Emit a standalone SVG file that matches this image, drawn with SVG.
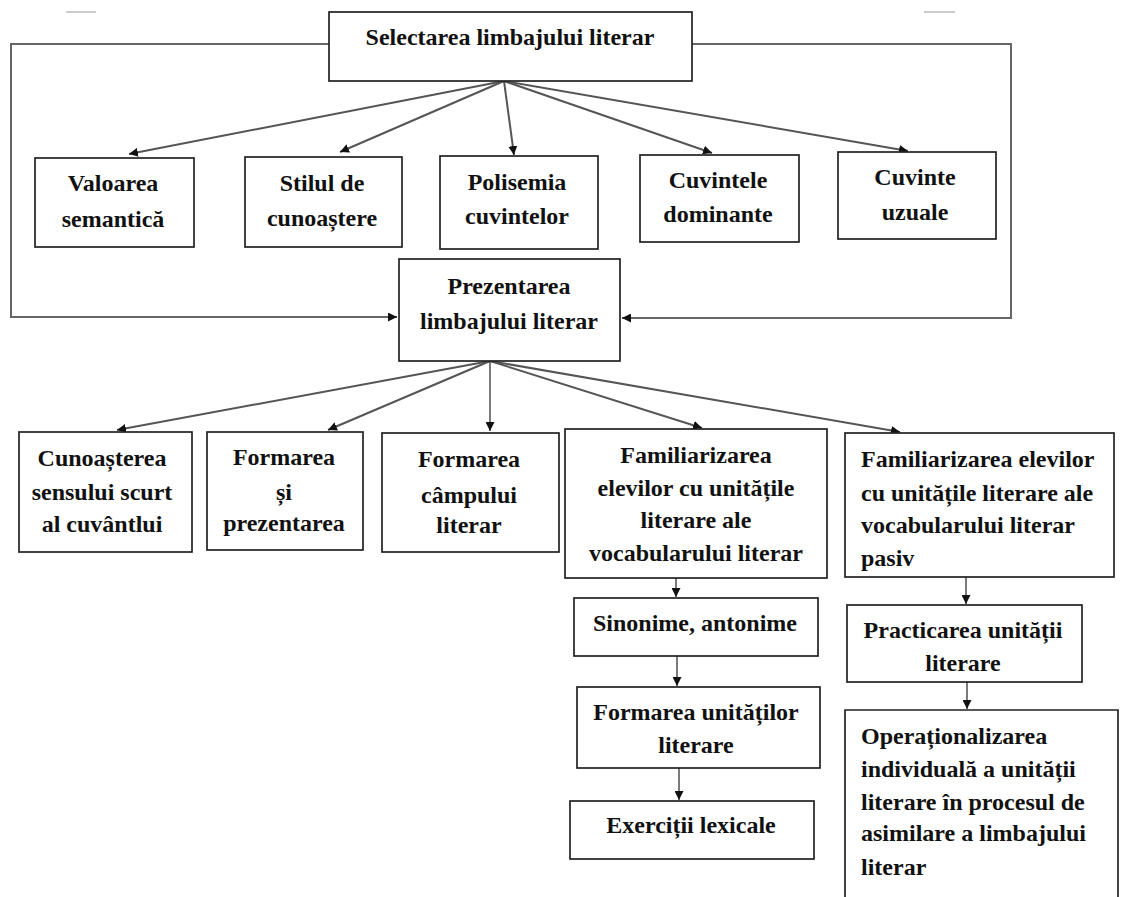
<svg xmlns="http://www.w3.org/2000/svg" width="1122" height="897" viewBox="0 0 1122 897">
  <defs>
    <marker id="ah" viewBox="0 0 10 10" refX="10" refY="5" markerWidth="9" markerHeight="9" markerUnits="userSpaceOnUse" orient="auto">
      <path d="M0,0 L10,5 L0,10 z" fill="#111"/>
    </marker>
    <style>
      .box { fill: #fff; stroke: #222; stroke-width: 1.7; }
      .t { font-family: "Liberation Serif", "Times New Roman", serif; font-weight: bold; font-size: 24px; fill: #111; }
      .c { text-anchor: middle; }
      .conn { fill: none; stroke: #555; stroke-width: 2; marker-end: url(#ah); }
      .conn2 { fill: none; stroke: #333; stroke-width: 1.3; marker-end: url(#ah); }
      .loop { fill: none; stroke: #666; stroke-width: 2; }
      .mark { stroke: #ccc; stroke-width: 2; }
    </style>
  </defs>
  <rect width="1122" height="897" fill="#fff"/>

  <!-- faint tick marks along the top edge -->
  <line class="mark" x1="66" y1="12" x2="96" y2="12"/>
  <line class="mark" x1="924" y1="12" x2="955" y2="12"/>

  <g id="connectors">
    <!-- side loops from the top node into "Prezentarea" -->
    <polyline class="loop" points="329,44 11,44 11,317 388,317"/>
    <polyline class="loop" points="692,44 1011,44 1011,318 631,318"/>
    <path class="conn" d="M388,317 L397,317"/>
    <path class="conn" d="M631,318 L622,318"/>
    <!-- top node to first row -->
    <path class="conn" d="M504,81 L129,154"/>
    <path class="conn" d="M504,81 L340,152"/>
    <path class="conn" d="M504,81 L514,155"/>
    <path class="conn" d="M504,81 L712,153"/>
    <path class="conn" d="M504,81 L908,151"/>
    <!-- "Prezentarea" to second row -->
    <path class="conn" d="M490,361 L117,430"/>
    <path class="conn" d="M490,361 L328,430"/>
    <path class="conn2" d="M490,361 L490,431"/>
    <path class="conn" d="M490,361 L702,428"/>
    <path class="conn" d="M490,361 L900,432"/>
    <!-- vertical chains -->
    <path class="conn2" d="M676,578 L676,597"/>
    <path class="conn2" d="M677,656 L677,686"/>
    <path class="conn2" d="M679,768 L679,800"/>
    <path class="conn2" d="M966,577 L966,604"/>
    <path class="conn2" d="M967,682 L967,709"/>
  </g>

  <g id="n-selectarea">
    <rect class="box" x="329" y="12" width="363" height="69"/>
    <text class="t c" x="510" y="45">Selectarea limbajului literar</text>
  </g>

  <g id="n-valoarea">
    <rect class="box" x="35" y="158" width="159" height="89"/>
    <text class="t c" x="113" y="191">Valoarea</text>
    <text class="t c" x="113" y="227">semantică</text>
  </g>
  <g id="n-stilul">
    <rect class="box" x="245" y="157" width="157" height="90"/>
    <text class="t c" x="322" y="191">Stilul de</text>
    <text class="t c" x="322" y="226">cunoaștere</text>
  </g>
  <g id="n-polisemia">
    <rect class="box" x="440" y="156" width="158" height="93"/>
    <text class="t c" x="517" y="190">Polisemia</text>
    <text class="t c" x="517" y="224">cuvintelor</text>
  </g>
  <g id="n-cuvintele">
    <rect class="box" x="640" y="155" width="159" height="87"/>
    <text class="t c" x="718" y="188">Cuvintele</text>
    <text class="t c" x="718" y="222">dominante</text>
  </g>
  <g id="n-uzuale">
    <rect class="box" x="838" y="152" width="158" height="87"/>
    <text class="t c" x="915" y="185">Cuvinte</text>
    <text class="t c" x="915" y="220">uzuale</text>
  </g>

  <g id="n-prezentarea">
    <rect class="box" x="399" y="259" width="221" height="102"/>
    <text class="t c" x="509" y="294">Prezentarea</text>
    <text class="t c" x="509" y="329">limbajului literar</text>
  </g>

  <g id="n-cunoasterea">
    <rect class="box" x="19" y="432" width="173" height="120"/>
    <text class="t c" x="102" y="466">Cunoașterea</text>
    <text class="t c" x="102" y="500">sensului scurt</text>
    <text class="t c" x="102" y="532">al cuvântlui</text>
  </g>
  <g id="n-formarea">
    <rect class="box" x="207" y="432" width="156" height="118"/>
    <text class="t c" x="284" y="465">Formarea</text>
    <text class="t c" x="284" y="500">și</text>
    <text class="t c" x="284" y="531">prezentarea</text>
  </g>
  <g id="n-campului">
    <rect class="box" x="382" y="433" width="177" height="119"/>
    <text class="t c" x="469" y="467">Formarea</text>
    <text class="t c" x="469" y="503">câmpului</text>
    <text class="t c" x="469" y="533">literar</text>
  </g>

  <g id="n-familiarizarea">
    <rect class="box" x="565" y="429" width="262" height="149"/>
    <text class="t c" x="696" y="463">Familiarizarea</text>
    <text class="t c" x="696" y="496">elevilor cu unitățile</text>
    <text class="t c" x="696" y="528">literare ale</text>
    <text class="t c" x="696" y="561">vocabularului literar</text>
  </g>
  <g id="n-sinonime">
    <rect class="box" x="574" y="598" width="244" height="58"/>
    <text class="t c" x="695" y="631">Sinonime, antonime</text>
  </g>
  <g id="n-formarea-unitatilor">
    <rect class="box" x="577" y="687" width="243" height="81"/>
    <text class="t c" x="696" y="720">Formarea unităților</text>
    <text class="t c" x="696" y="753">literare</text>
  </g>
  <g id="n-exercitii">
    <rect class="box" x="570" y="801" width="244" height="58"/>
    <text class="t c" x="691" y="833">Exerciții lexicale</text>
  </g>

  <g id="n-familiarizarea-pasiv">
    <rect class="box" x="845" y="433" width="269" height="144"/>
    <text class="t" x="861" y="467">Familiarizarea elevilor</text>
    <text class="t" x="861" y="501">cu unitățile literare ale</text>
    <text class="t" x="861" y="533">vocabularului literar</text>
    <text class="t" x="861" y="566">pasiv</text>
  </g>
  <g id="n-practicarea">
    <rect class="box" x="847" y="605" width="235" height="77"/>
    <text class="t c" x="963" y="638">Practicarea unității</text>
    <text class="t c" x="963" y="671">literare</text>
  </g>
  <g id="n-operationalizarea">
    <path class="box" d="M845,900 L845,710 L1118,710 L1118,900"/>
    <text class="t" x="861" y="744">Operaționalizarea</text>
    <text class="t" x="861" y="777">individuală a unității</text>
    <text class="t" x="861" y="810">literare în procesul de</text>
    <text class="t" x="861" y="841">asimilare a limbajului</text>
    <text class="t" x="861" y="875">literar</text>
  </g>
</svg>
